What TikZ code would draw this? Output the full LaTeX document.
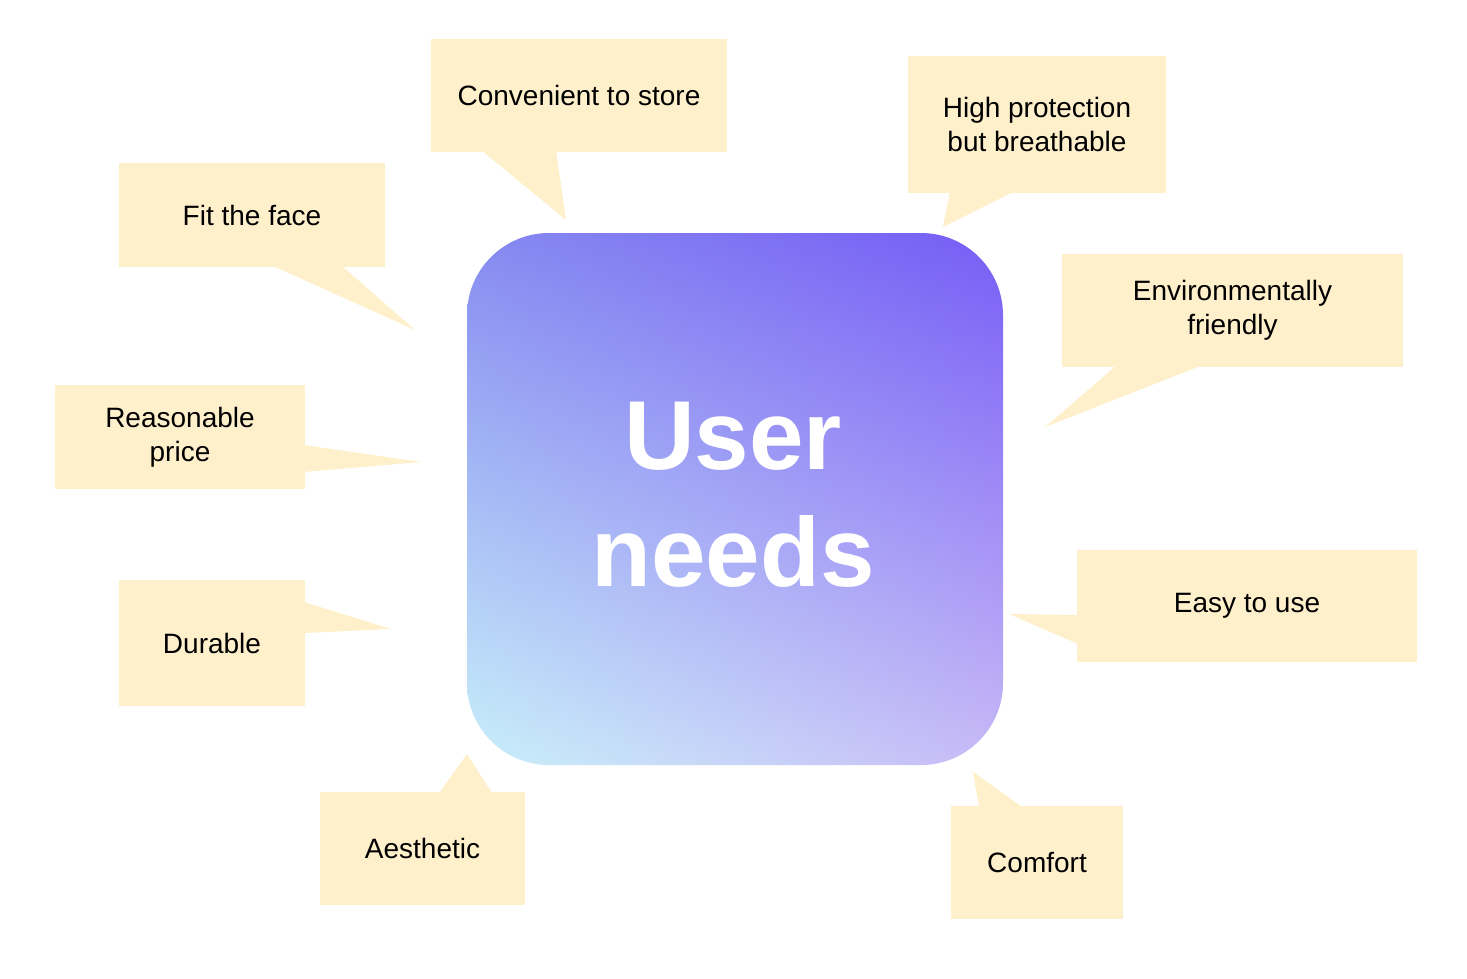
\documentclass[tikz,border=0pt]{standalone}
\usepackage{fontspec}
\setmainfont{Liberation Sans}
\usetikzlibrary{shadings}
\definecolor{notefill}{HTML}{FFF0CC}
\definecolor{boxUL}{RGB}{134,138,240}
\definecolor{boxUR}{RGB}{118,92,246}
\definecolor{boxLL}{RGB}{200,240,250}
\definecolor{boxLR}{RGB}{200,186,246}

\begin{document}
\begin{tikzpicture}[
  x=0.5pt, y=-0.5pt,
  note/.style={fill=notefill,inner sep=0pt,align=center,font=\fontsize{14}{17}\selectfont},
  tail/.style={fill=notefill},
  needbox/.style={shade,upper left=boxUL,upper right=boxUR,lower left=boxLL,lower right=boxLR,
    rounded corners=41pt,inner sep=0pt,minimum width=268pt,minimum height=266pt},
  title/.style={text=white,align=center,font=\fontsize{49}{58.5}\selectfont\bfseries}
]
  \useasboundingbox (0,0) rectangle (1467,979);

  % centre
  \node[needbox] (needs) at (735,499) {};
  \node[title] (ttl) at (733,495) {User\\needs};

  % callouts
  \node[note,minimum width=148pt,minimum height=56.5pt] (store) at (579,95.5) {Convenient to store};
  \node[note,minimum width=129pt,minimum height=68pt] (prot) at (1037,124.5) {High protection\\but breathable};
  \node[note,minimum width=133pt,minimum height=52pt] (face) at (252,215) {Fit the face};
  \node[note,minimum width=170.5pt,minimum height=56.5pt] (env) at (1232.5,310.5) {Environmentally\\friendly};
  \node[note,minimum width=125pt,minimum height=52pt] (price) at (180,437) {Reasonable\\price};
  \node[note,minimum width=93pt,minimum height=63pt] (dur) at (212,643) {Durable};
  \node[note,minimum width=170pt,minimum height=56pt] (easy) at (1247,606) {Easy to use};
  \node[note,minimum width=102.5pt,minimum height=56.5pt] (aes) at (422.5,848.5) {Aesthetic};
  \node[note,minimum width=86pt,minimum height=56.5pt] (comf) at (1037,862.5) {Comfort};

  % tails
  \fill[tail] (481,150) -- (566,220) -- (556,150) -- cycle;
  \fill[tail] (950,191) -- (943,227) -- (1015,191) -- cycle;
  \fill[tail] (273,266) -- (415,330) -- (342,266) -- cycle;
  \fill[tail] (1117,365) -- (1045,427) -- (1203,365) -- cycle;
  \fill[tail] (304,445) -- (421,462) -- (304,472) -- cycle;
  \fill[tail] (304,602) -- (391,629) -- (304,633) -- cycle;
  \fill[tail] (1078,615) -- (1009,614) -- (1078,644) -- cycle;
  \fill[tail] (439,793) -- (467,754) -- (492,793) -- cycle;
  \fill[tail] (979,807) -- (973,772) -- (1022,807) -- cycle;
\end{tikzpicture}
\end{document}
